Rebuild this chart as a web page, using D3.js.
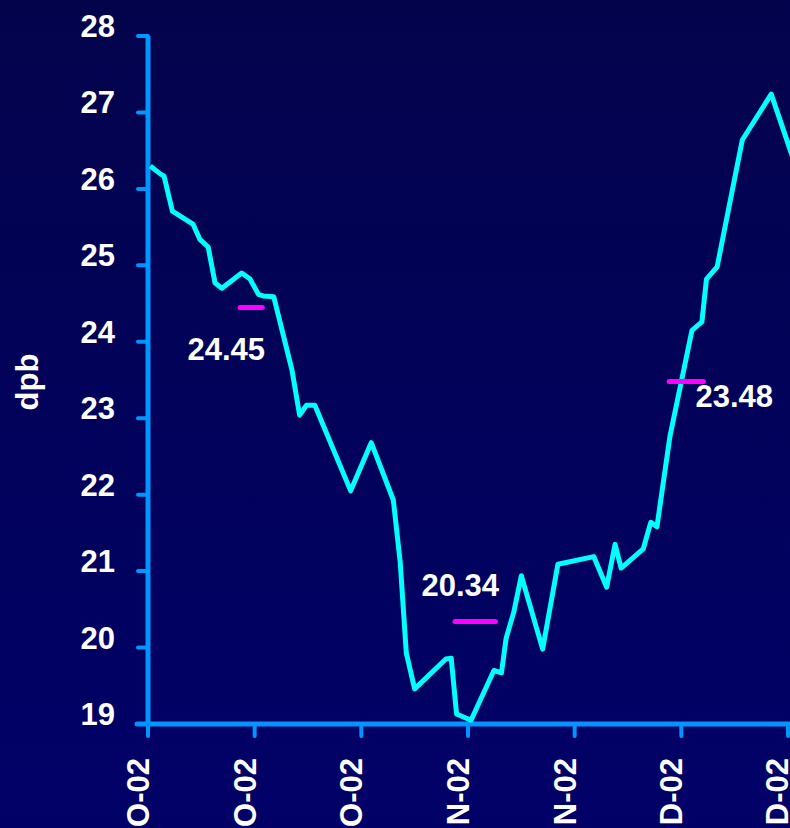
<!DOCTYPE html>
<html>
<head>
<meta charset="utf-8">
<script src="https://cdn.jsdelivr.net/npm/d3@7"></script>
<style>
  html, body { margin: 0; padding: 0; background: #000058; overflow: hidden; }
  svg { display: block; }
  text { font-family: "Liberation Sans", Arial, sans-serif; font-weight: bold; fill: #ffffff; }
</style>
</head>
<body>
<div id="chart"></div>
<script>
// Days since 1 Oct 2002 for each observation
const days = [0.3, 1.7, 2.1, 3.2, 5.9, 6.8, 7.9, 8.8, 9.7, 12.3, 13.4, 14.5, 15.1, 16.5,
  18.9, 19.9, 20.8, 21.9, 26.6, 29.3, 32.2, 33.1, 33.9, 35.0, 39.1, 39.8, 40.5, 42.4,
  45.4, 46.4, 47.0, 48.0, 49.0, 51.8, 53.8, 58.5, 60.2, 61.3, 62.1, 65.0, 66.0, 66.8,
  68.5, 71.4, 72.7, 73.3, 74.7, 78.0, 81.8, 85.0];

// Price in dpb
const dpb = [26.30, 26.19, 26.17, 25.71, 25.54, 25.34, 25.24, 24.77, 24.70, 24.90, 24.82, 24.62, 24.60, 24.59,
  23.63, 23.04, 23.17, 23.17, 22.05, 22.68, 21.93, 21.12, 19.93, 19.46, 19.85, 19.86, 19.13, 19.05,
  19.70, 19.67, 20.12, 20.46, 20.94, 19.98, 21.09, 21.19, 20.79, 21.35, 21.04, 21.29, 21.64, 21.58,
  22.76, 24.15, 24.26, 24.82, 24.98, 26.64, 27.24, 26.30];

// Monthly averages: value and span (days since 1 Oct 2002)
const avgValues = [24.45, 20.34, 23.48];
const avgStart = [12.1, 40.3, 68.4];
const avgEnd = [15.0, 45.6, 72.9];

// Axis ticks
const xTickDays = [0, 14, 28, 42, 56, 70, 84];
const xTickLabels = ["O-02", "O-02", "O-02", "N-02", "N-02", "D-02", "D-02"];
const yTicks = [19, 20, 21, 22, 23, 24, 25, 26, 27, 28];

const W = 790, H = 828;
const axisColor = "#0096ff";
const lineColor = "#00ffff";
const avgColor = "#ff00ff";
const fontSize = 31;

const svg = d3.select("#chart").append("svg")
  .attr("width", W).attr("height", H);

const defs = svg.append("defs");
const grad = defs.append("linearGradient")
  .attr("id", "bg").attr("x1", 0).attr("y1", 0).attr("x2", 0).attr("y2", 1);
grad.append("stop").attr("offset", "0%").attr("stop-color", "#03034c");
grad.append("stop").attr("offset", "100%").attr("stop-color", "#000068");
svg.append("rect").attr("width", W).attr("height", H).attr("fill", "url(#bg)");

const x = d3.scaleLinear().domain([0, 84]).range([148, 788]);
const y = d3.scaleLinear().domain([19, 28]).range([724, 36]);

// Y axis
const gy = svg.append("g");
gy.append("line")
  .attr("x1", x(0)).attr("x2", x(0))
  .attr("y1", y(28)).attr("y2", y(19))
  .attr("stroke", axisColor).attr("stroke-width", 5);
gy.selectAll("line.tick").data(yTicks).join("line")
  .attr("class", "tick")
  .attr("x1", x(0) - 10).attr("x2", x(0))
  .attr("y1", d => y(d)).attr("y2", d => y(d))
  .attr("stroke", axisColor).attr("stroke-width", 4).attr("stroke-linecap", "round");
gy.selectAll("text").data(yTicks).join("text")
  .attr("x", 115).attr("y", d => y(d) + 1)
  .attr("text-anchor", "end")
  .attr("font-size", fontSize)
  .text(d => d);

// X axis
const gx = svg.append("g");
gx.append("line")
  .attr("x1", x(0) - 11).attr("x2", W + 10)
  .attr("y1", y(19)).attr("y2", y(19))
  .attr("stroke", axisColor).attr("stroke-width", 5).attr("stroke-linecap", "round");
gx.selectAll("line.tick").data(xTickDays).join("line")
  .attr("class", "tick")
  .attr("x1", d => x(d)).attr("x2", d => x(d))
  .attr("y1", y(19)).attr("y2", y(19) + 12)
  .attr("stroke", axisColor).attr("stroke-width", 4).attr("stroke-linecap", "round");
gx.selectAll("text").data(xTickDays).join("text")
  .attr("transform", d => `translate(${Math.min(x(d) + 1, 788)},758) rotate(-90)`)
  .attr("text-anchor", "end")
  .attr("font-size", fontSize)
  .text((d, i) => xTickLabels[i]);

// Y axis title
svg.append("text")
  .attr("transform", "translate(38,382) rotate(-90)")
  .attr("text-anchor", "middle")
  .attr("font-size", fontSize)
  .text("dpb");

// Price line
const line = d3.line().x(d => x(d[0])).y(d => y(d[1]));
svg.append("path")
  .datum(days.map((d, i) => [d, dpb[i]]))
  .attr("d", line)
  .attr("fill", "none")
  .attr("stroke", lineColor)
  .attr("stroke-width", 5)
  .attr("stroke-linejoin", "round");

// Monthly average markers and their labels
const avgData = avgValues.map((v, i) => ({ v, s: avgStart[i], e: avgEnd[i] }));
const labelPlacement = [
  { anchor: "middle", dx: -25, dy: 53 },
  { anchor: "middle", dx: -15, dy: -26 },
  { anchor: "start", dx: -8, dy: 25 }
];
svg.selectAll("line.avg").data(avgData).join("line")
  .attr("class", "avg")
  .attr("x1", d => x(d.s)).attr("x2", d => x(d.e))
  .attr("y1", d => y(d.v)).attr("y2", d => y(d.v))
  .attr("stroke", avgColor).attr("stroke-width", 5).attr("stroke-linecap", "round");
svg.selectAll("text.avg").data(avgData).join("text")
  .attr("class", "avg")
  .attr("x", (d, i) => (labelPlacement[i].anchor === "start" ? x(d.e) : (x(d.s) + x(d.e)) / 2) + labelPlacement[i].dx)
  .attr("y", (d, i) => y(d.v) + labelPlacement[i].dy)
  .attr("text-anchor", (d, i) => labelPlacement[i].anchor)
  .attr("font-size", fontSize)
  .text(d => d3.format(".2f")(d.v));
</script>
</body>
</html>
